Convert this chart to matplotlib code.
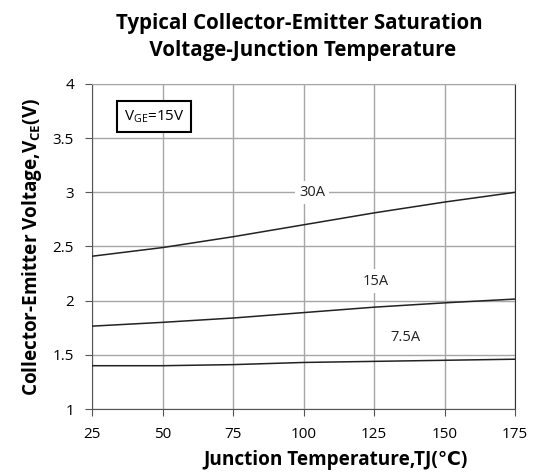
import matplotlib.pyplot as plt

# Data
temp = [25, 50, 75, 100, 125, 150, 175]
v_30a = [2.41, 2.49, 2.59, 2.70, 2.81, 2.91, 3.00]
v_15a = [1.765, 1.80, 1.84, 1.89, 1.94, 1.98, 2.015]
v_7a5 = [1.40, 1.40, 1.41, 1.43, 1.44, 1.45, 1.46]
curve_labels = ['30A', '15A', '7.5A']
label_pos = [(103, 3.0), (125.5, 2.18), (136, 1.66)]
x_ticks = [25, 50, 75, 100, 125, 150, 175]
y_ticks = [1, 1.5, 2, 2.5, 3, 3.5, 4]

plt.rcParams['font.family'] = ['Open Sans', 'DejaVu Sans']
plt.rcParams['mathtext.fontset'] = 'custom'
plt.rcParams['mathtext.rm'] = 'Open Sans'
plt.rcParams['mathtext.bf'] = 'Open Sans:bold'

fig = plt.figure(figsize=(5.35, 4.74), dpi=100)
ax = fig.add_axes([0.172, 0.137, 0.791, 0.686])

for v in [v_30a, v_15a, v_7a5]:
    ax.plot(temp, v, color='#222222', lw=1.1, zorder=3)

for name, (x, y) in zip(curve_labels, label_pos):
    ax.text(x, y, name, fontsize=10.5, ha='center', va='center', color='#222222',
            bbox=dict(facecolor='white', edgecolor='none', pad=3), zorder=4)

ax.text(47, 3.7, r'V$_{\mathrm{GE}}$=15V', fontsize=11, ha='center', va='center',
        bbox=dict(facecolor='white', edgecolor='black', lw=1.5, pad=5), zorder=4)

ax.set_xlim(25, 175)
ax.set_ylim(1, 4)
ax.set_xticks(x_ticks)
ax.set_yticks(y_ticks)
ax.set_yticklabels(['1', '1.5', '2', '2.5', '3', '3.5', '4'])
ax.grid(True, color='#a6a6a6', lw=1)
ax.set_axisbelow(True)
ax.tick_params(labelsize=11, length=5, width=0.8, color='#555555', pad=8)
ax.spines['top'].set_color('#a6a6a6')
ax.spines['right'].set_color('#333333')
ax.spines['left'].set_color('#555555')
ax.spines['bottom'].set_color('#555555')

ax.set_xlabel('Junction Temperature,TJ(℃)', fontsize=13.7, fontweight='bold')
ax.xaxis.set_label_coords(0.575, -0.125)
ax.set_ylabel(r'Collector-Emitter Voltage,V$_{\mathbf{CE}}$(V)', fontsize=13.6,
              fontweight='bold', labelpad=6)

fig.text(0.56, 0.922, 'Typical Collector-Emitter Saturation\n Voltage-Junction Temperature',
         fontsize=14.8, fontweight='bold', ha='center', va='center', linespacing=1.4)

plt.savefig('out.png', dpi=100)
